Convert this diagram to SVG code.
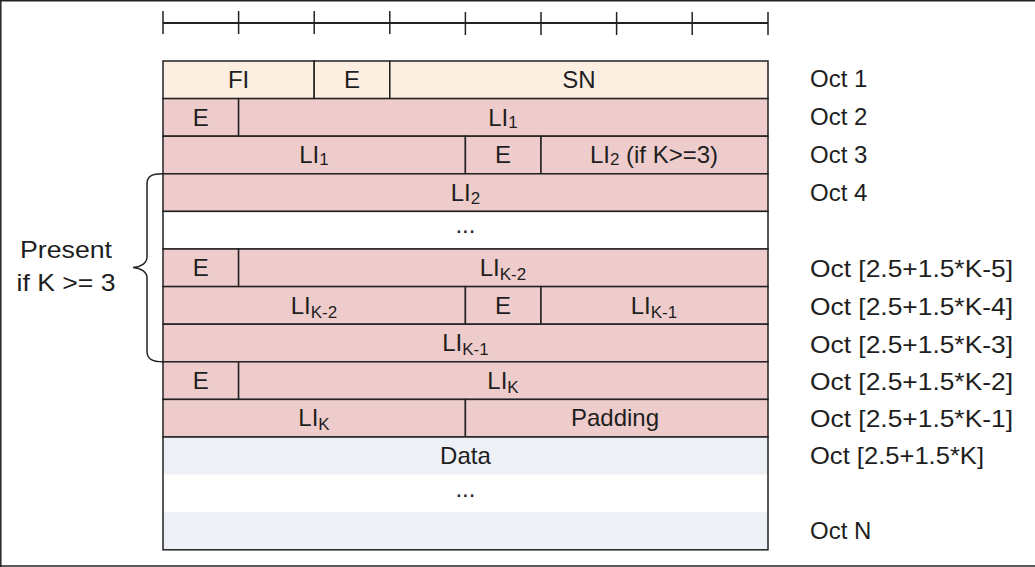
<svg xmlns="http://www.w3.org/2000/svg" width="1035" height="567" viewBox="0 0 1035 567">
<style>
text{font-family:"Liberation Sans",Arial,sans-serif;font-size:24px;fill:#1e1e1e}
.c{text-anchor:middle}
.sub{font-size:17px}
.pe{fill:#fdeee2;stroke:#222;stroke-width:1.5}
.pk{fill:#eecccc;stroke:#222;stroke-width:1.5}
.dt{fill:#edf0f5;stroke:none}
.wh{fill:#ffffff;stroke:#222;stroke-width:1.5}
.ln{stroke:#222;stroke-width:1.5;fill:none}
</style>
<rect x="0" y="0" width="1035" height="567" fill="#ffffff"/>
<g id="frame">
<line x1="0" y1="0.8" x2="1035" y2="0.8" class="ln" stroke-width="2"/>
<line x1="0.8" y1="0" x2="0.8" y2="567" class="ln" stroke-width="2"/>
<line x1="0" y1="566" x2="1035" y2="566" class="ln" stroke-width="2"/>
</g>
<g id="ruler" class="ln">
<line x1="163" y1="23" x2="768" y2="23" stroke-width="2"/>
<line x1="163" y1="11" x2="163" y2="34"/>
<line x1="238.6" y1="11" x2="238.6" y2="34"/>
<line x1="314.2" y1="11" x2="314.2" y2="34"/>
<line x1="389.8" y1="11" x2="389.8" y2="34"/>
<line x1="465.4" y1="12" x2="465.4" y2="35"/>
<line x1="541" y1="12" x2="541" y2="35"/>
<line x1="616.6" y1="12" x2="616.6" y2="35"/>
<line x1="692.2" y1="12" x2="692.2" y2="35"/>
<line x1="768" y1="12" x2="768" y2="35"/>
</g>
<g id="oct1">
<rect x="163" y="61" width="151.2" height="37.6" class="pe"/>
<rect x="314.2" y="61" width="75.6" height="37.6" class="pe"/>
<rect x="389.8" y="61" width="378.2" height="37.6" class="pe"/>
<text x="238.6" y="88" class="c">FI</text>
<text x="352" y="88" class="c">E</text>
<text x="579" y="88" class="c">SN</text>
</g>
<g id="oct2">
<rect x="163" y="98.6" width="75.6" height="37.6" class="pk"/>
<rect x="238.6" y="98.6" width="529.4" height="37.6" class="pk"/>
<text x="200.8" y="125.6" class="c">E</text>
<text x="503" y="125.6" class="c">LI<tspan class="sub" dy="2">1</tspan></text>
</g>
<g id="oct3">
<rect x="163" y="136.2" width="302.4" height="37.6" class="pk"/>
<rect x="465.4" y="136.2" width="75.6" height="37.6" class="pk"/>
<rect x="541" y="136.2" width="227" height="37.6" class="pk"/>
<text x="314" y="163.2" class="c">LI<tspan class="sub" dy="2">1</tspan></text>
<text x="503" y="163.2" class="c">E</text>
<text x="654" y="163.2" class="c">LI<tspan class="sub" dy="2">2</tspan><tspan dy="-2"> (if K&gt;=3)</tspan></text>
</g>
<g id="oct4">
<rect x="163" y="173.8" width="605" height="37.6" class="pk"/>
<text x="465.4" y="200.8" class="c">LI<tspan class="sub" dy="3">2</tspan></text>
</g>
<g id="gap1">
<rect x="163" y="211.4" width="605" height="37.6" class="wh"/>
<text x="465.4" y="233" class="c">...</text>
</g>
<g id="octK5">
<rect x="163" y="249" width="75.6" height="37.6" class="pk"/>
<rect x="238.6" y="249" width="529.4" height="37.6" class="pk"/>
<text x="200.8" y="276" class="c">E</text>
<text x="503" y="276" class="c">LI<tspan class="sub" dy="4">K-2</tspan></text>
</g>
<g id="octK4">
<rect x="163" y="286.6" width="302.4" height="37.6" class="pk"/>
<rect x="465.4" y="286.6" width="75.6" height="37.6" class="pk"/>
<rect x="541" y="286.6" width="227" height="37.6" class="pk"/>
<text x="314" y="313.6" class="c">LI<tspan class="sub" dy="4">K-2</tspan></text>
<text x="503" y="313.6" class="c">E</text>
<text x="654" y="313.6" class="c">LI<tspan class="sub" dy="4">K-1</tspan></text>
</g>
<g id="octK3">
<rect x="163" y="324.2" width="605" height="37.6" class="pk"/>
<text x="465.4" y="351.2" class="c">LI<tspan class="sub" dy="4">K-1</tspan></text>
</g>
<g id="octK2">
<rect x="163" y="361.8" width="75.6" height="37.6" class="pk"/>
<rect x="238.6" y="361.8" width="529.4" height="37.6" class="pk"/>
<text x="200.8" y="388.8" class="c">E</text>
<text x="503" y="388.8" class="c">LI<tspan class="sub" dy="4">K</tspan></text>
</g>
<g id="octK1">
<rect x="163" y="399.4" width="302.4" height="37.6" class="pk"/>
<rect x="465.4" y="399.4" width="302.6" height="37.6" class="pk"/>
<text x="314" y="426.4" class="c">LI<tspan class="sub" dy="4">K</tspan></text>
<text x="615" y="426.4" class="c">Padding</text>
</g>
<g id="data">
<rect x="163" y="437" width="605" height="37.6" class="dt"/>
<rect x="163" y="474.6" width="605" height="37.6" fill="#ffffff"/>
<rect x="163" y="512.2" width="605" height="37.6" class="dt"/>
<rect x="163" y="437" width="605" height="112.8" class="ln"/>
<text x="465.4" y="464" class="c">Data</text>
<text x="465.4" y="497" class="c">...</text>
</g>
<g id="labels">
<text x="810" y="87">Oct 1</text>
<text x="810" y="125">Oct 2</text>
<text x="810" y="163">Oct 3</text>
<text x="810" y="200.5">Oct 4</text>
<text x="810" y="276.5" textLength="203" lengthAdjust="spacingAndGlyphs">Oct [2.5+1.5*K-5]</text>
<text x="810" y="315" textLength="203" lengthAdjust="spacingAndGlyphs">Oct [2.5+1.5*K-4]</text>
<text x="810" y="352.5" textLength="203" lengthAdjust="spacingAndGlyphs">Oct [2.5+1.5*K-3]</text>
<text x="810" y="390" textLength="203" lengthAdjust="spacingAndGlyphs">Oct [2.5+1.5*K-2]</text>
<text x="810" y="427" textLength="203" lengthAdjust="spacingAndGlyphs">Oct [2.5+1.5*K-1]</text>
<text x="810" y="464" textLength="174" lengthAdjust="spacingAndGlyphs">Oct [2.5+1.5*K]</text>
<text x="810" y="539">Oct N</text>
</g>
<g id="note">
<text x="66" y="258" class="c" textLength="92" lengthAdjust="spacingAndGlyphs">Present</text>
<text x="66" y="291" class="c" textLength="99" lengthAdjust="spacingAndGlyphs">if K &gt;= 3</text>
</g>
<g id="connectors">
<path class="ln" stroke="#444" d="M163,173.8 C152,173.8 147,176 147,184 L147,257 C147,263 141,267 133,267.5 C141,268 147,272 147,278 L147,351 C147,359 152,361.8 163,361.8"/>
</g>
</svg>
